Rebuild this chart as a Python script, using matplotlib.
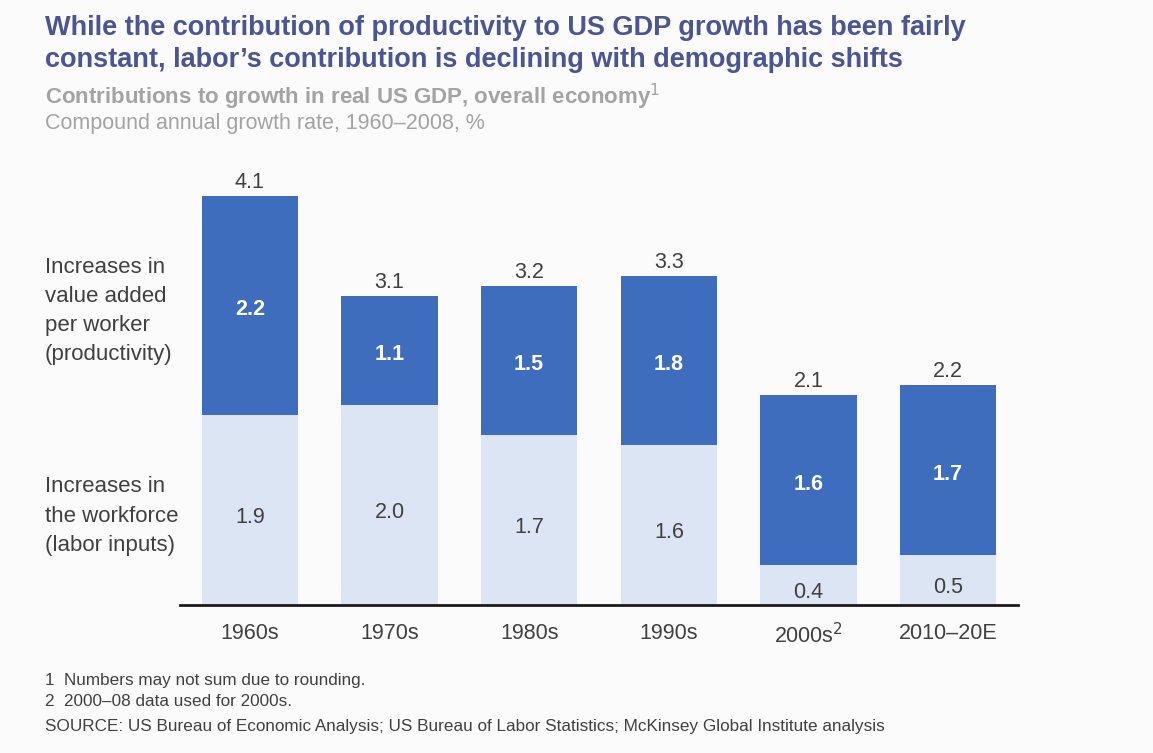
import numpy as np
import matplotlib.pyplot as plt

# =====================================================
# DATA
# =====================================================

periods = ["1960s", "1970s", "1980s", "1990s", "2000s$^2$", "2010–20E"]
labor = [1.9, 2.0, 1.7, 1.6, 0.4, 0.5]
productivity = [2.2, 1.1, 1.5, 1.8, 1.6, 1.7]
totals = [4.1, 3.1, 3.2, 3.3, 2.1, 2.2]

# =====================================================
# STYLE
# =====================================================

plt.rcParams["font.family"] = ["Liberation Sans", "DejaVu Sans"]

dark_blue = "#3F6DBE"
light_blue = "#DCE5F3"
title_col = "#4B5591"
sub_col = "#A3A3A3"
text_col = "#404040"
bg = "#FBFBFB"

fig = plt.figure(figsize=(11.53, 7.53), dpi=100, facecolor=bg)

# axes: x from 180px to 1018px, baseline at 605px, ~100 px per unit
W, H = 1153, 753
ymax = 4.5
ax = fig.add_axes([180 / W, (H - 605) / H, (1018 - 180) / W, ymax * 99.8 / H])
ax.set_facecolor("none")

x = np.arange(len(periods))
width = 0.69

# productivity segment drawn so the bar top matches the total (rounding)
prod_height = [t - l for t, l in zip(totals, labor)]

ax.bar(x, labor, width=width, color=light_blue, edgecolor="none")
ax.bar(x, prod_height, width=width, bottom=labor, color=dark_blue, edgecolor="none")

for i in range(len(periods)):
    ax.text(x[i], labor[i] / 2 - 0.07, f"{labor[i]:.1f}", ha="center", va="center",
            fontsize=15.5, color=text_col)
    ax.text(x[i], labor[i] + prod_height[i] / 2 - 0.04, f"{productivity[i]:.1f}",
            ha="center", va="center", fontsize=15.5, color="white", fontweight="bold")
    ax.text(x[i], totals[i] + 0.03, f"{totals[i]:.1f}", ha="center", va="bottom",
            fontsize=15.5, color=text_col)

ax.set_xlim(-0.5, len(periods) - 0.5)
ax.set_ylim(0, ymax)
ax.set_xticks(x)
ax.set_xticklabels(periods, fontsize=15.5, color=text_col)
ax.tick_params(axis="x", length=0, pad=13)
ax.set_yticks([])
for s in ["top", "right", "left"]:
    ax.spines[s].set_visible(False)
ax.spines["bottom"].set_linewidth(2)
ax.spines["bottom"].set_color("#1A1A1A")

# =====================================================
# TEXT
# =====================================================

fig.text(45 / W, 1 - 44 / H,
         "While the contribution of productivity to US GDP growth has been fairly\n"
         "constant, labor’s contribution is declining with demographic shifts",
         fontsize=19.5, fontweight="bold", color=title_col, va="center", ha="left",
         linespacing=1.3)
fig.text(45 / W, 1 - 97 / H, "Contributions to growth in real US GDP, overall economy$^1$",
         fontsize=16, fontweight="bold", color=sub_col, va="center", ha="left")
fig.text(45 / W, 1 - 124 / H, "Compound annual growth rate, 1960–2008, %",
         fontsize=15.5, color=sub_col, va="center", ha="left")

fig.text(45 / W, 1 - 311 / H,
         "Increases in\nvalue added\nper worker\n(productivity)",
         fontsize=16, color=text_col, va="center", ha="left", linespacing=1.5)
fig.text(45 / W, 1 - 516 / H,
         "Increases in\nthe workforce\n(labor inputs)",
         fontsize=16, color=text_col, va="center", ha="left", linespacing=1.5)

fig.text(45 / W, 1 - 680 / H, "1  Numbers may not sum due to rounding.",
         fontsize=12.3, color=text_col, va="center", ha="left")
fig.text(45 / W, 1 - 701 / H, "2  2000–08 data used for 2000s.",
         fontsize=12.3, color=text_col, va="center", ha="left")
fig.text(45 / W, 1 - 726 / H,
         "SOURCE: US Bureau of Economic Analysis; US Bureau of Labor Statistics; "
         "McKinsey Global Institute analysis",
         fontsize=12.3, color=text_col, va="center", ha="left")

fig.savefig("out.png", dpi=100, facecolor=bg)
